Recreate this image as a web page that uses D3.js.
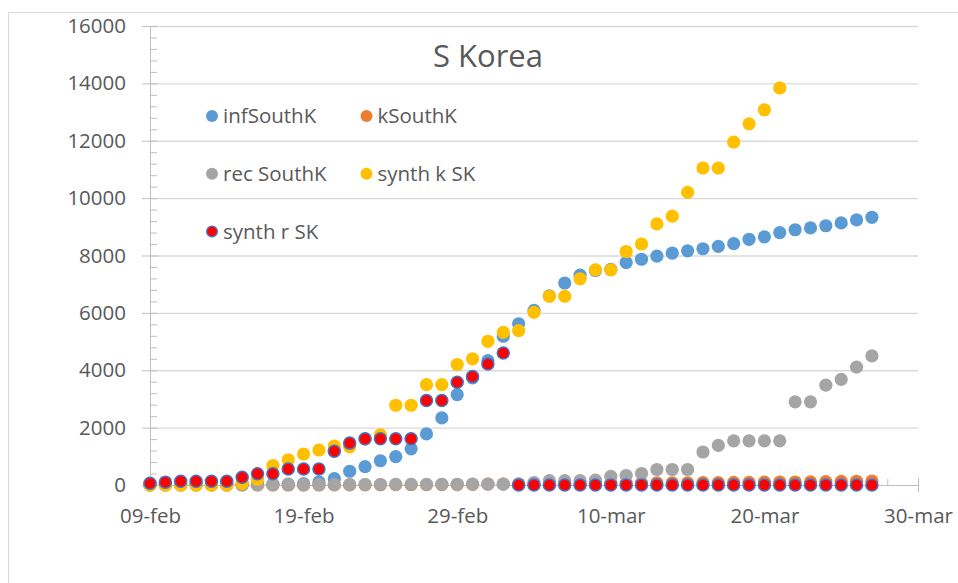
<!DOCTYPE html>
<html>
<head>
<meta charset="utf-8">
<script src="https://cdn.jsdelivr.net/npm/d3@7"></script>
<style>
  body { margin: 0; background: #fff; }
  text { font-family: "Open Sans", "Noto Sans", sans-serif; fill: #595959; }
</style>
</head>
<body>
<div id="chart"></div>
<script>
// S Korea: one point per day starting 09-feb

const firstDay = new Date(Date.UTC(2020, 1, 9));
const lastDay = new Date(Date.UTC(2020, 2, 30));

const infSouthK = [25, 27, 28, 28, 28, 28, 28, 29, 30, 31, 46, 104, 220, 480, 640, 845,
  990, 1261, 1780, 2337, 3150, 3736, 4335, 5186, 5621, 6088, 6593, 7041, 7314, 7478,
  7513, 7755, 7869, 7979, 8086, 8162, 8236, 8320, 8413, 8565, 8652, 8799, 8897, 8961,
  9037, 9137, 9241, 9332];
const kSouthK = [0, 0, 0, 0, 0, 0, 0, 0, 0, 0, 0, 1, 2, 2, 6, 8, 11, 12, 13, 16, 17, 20,
  28, 32, 35, 42, 44, 50, 51, 54, 60, 66, 66, 72, 75, 75, 81, 84, 91, 94, 102, 104, 104,
  111, 120, 126, 131, 139];
const recSouthK = [3, 3, 3, 7, 7, 7, 9, 9, 10, 12, 12, 16, 16, 16, 18, 18, 22, 22, 22, 22,
  27, 30, 30, 30, 41, 88, 150, 150, 150, 170, 300, 330, 400, 540, 540, 540, 1150, 1380,
  1540, 1540, 1540, 1540, 2900, 2900, 3480, 3680, 4110, 4500];
const synthKSK = [0, 0, 0, 0, 0, 0, 60, 200, 680, 880, 1080, 1220, 1360, 1330, 1600, 1750,
  2780, 2780, 3500, 3500, 4200, 4400, 5010, 5320, 5380, 6020, 6580, 6580, 7190, 7500,
  7500, 8140, 8400, 9100, 9370, 10200, 11050, 11050, 11950, 12590, 13080, 13840];
const synthRSK = [60, 100, 130, 130, 130, 130, 270, 390, 390, 560, 560, 560, 1180, 1460,
  1610, 1610, 1610, 1610, 2945, 2945, 3580, 3780, 4220, 4600, 0, 0, 0, 0, 0, 0, 0, 0, 0,
  0, 0, 0, 0, 0, 0, 0, 0, 0, 0, 0, 0, 0, 0, 0];

const seriesNames = ["infSouthK", "kSouthK", "rec SouthK", "synth k SK", "synth r SK"];
const seriesValues = [infSouthK, kSouthK, recSouthK, synthKSK, synthRSK];
const seriesFill = ["#5B9BD5", "#ED7D31", "#A5A5A5", "#FFC000", "#FF0000"];
const seriesStroke = ["#5B9BD5", "#ED7D31", "#A5A5A5", "#FFC000", "#4472C4"];

const yTicks = [0, 2000, 4000, 6000, 8000, 10000, 12000, 14000, 16000];
const xTickDays = [0, 10, 20, 30, 40, 50];

const width = 958, height = 583;
const margin = {top: 26, right: 40, bottom: 98, left: 150};

const svg = d3.select("#chart")
    .append("svg")
    .attr("width", width)
    .attr("height", height);

// chart frame (runs off the right and bottom of the picture)
svg.append("rect")
    .attr("x", 8.5).attr("y", 12.5)
    .attr("width", 1000).attr("height", 1000)
    .style("fill", "none")
    .style("stroke", "#D9D9D9");

const x = d3.scaleUtc()
    .domain([firstDay, lastDay])
    .range([margin.left, width - margin.right]);

const y = d3.scaleLinear()
    .domain([0, 16000])
    .range([height - margin.bottom, margin.top]);

// gridlines
svg.append("g")
  .selectAll("line")
  .data(yTicks.slice(1))
  .enter().append("line")
    .attr("x1", margin.left).attr("x2", width - margin.right)
    .attr("y1", d => y(d) + 0.5).attr("y2", d => y(d) + 0.5)
    .style("stroke", "#D9D9D9")
    .style("stroke-width", 1.3);

// y axis, major and minor ticks
const yAxis = svg.append("g")
    .attr("transform", "translate(" + margin.left + ",0)")
    .call(d3.axisLeft(y).tickValues(yTicks).tickSize(8).tickPadding(16).tickFormat(d3.format("d")));
yAxis.select(".domain").style("stroke", "#BFBFBF");
yAxis.selectAll(".tick line").style("stroke", "#BFBFBF");
yAxis.selectAll("text").style("font-size", "20.5px").style("fill", "#595959");

svg.append("g")
    .attr("transform", "translate(" + margin.left + ",0)")
    .call(d3.axisRight(y).tickValues(d3.range(0, 16001, 400)).tickSize(7).tickFormat(""))
    .call(g => g.select(".domain").remove())
    .selectAll(".tick line").style("stroke", "#BFBFBF");

// x axis
const dayAt = i => d3.utcDay.offset(firstDay, i);
const fmt = d3.utcFormat("%d-%b");

const xAxis = svg.append("g")
    .attr("transform", "translate(0," + y(0) + ")")
    .call(d3.axisBottom(x).tickValues(xTickDays.map(dayAt)).tickSizeOuter(0)
      .tickSize(7).tickPadding(16).tickFormat(d => fmt(d).toLowerCase()));
xAxis.select(".domain").style("stroke", "#BFBFBF");
xAxis.selectAll(".tick line").attr("y1", -7).style("stroke", "#BFBFBF");
xAxis.selectAll("text").style("font-size", "20.5px").style("fill", "#595959");

svg.append("g")
    .attr("transform", "translate(0," + y(0) + ")")
    .call(d3.axisTop(x).tickValues(d3.range(2, 50, 2).map(dayAt)).tickSize(6).tickFormat(""))
    .call(g => g.select(".domain").remove())
    .selectAll(".tick line").style("stroke", "#BFBFBF");

// points, drawn in series order so later ones sit on top
seriesValues.forEach(function(values, s) {
  svg.append("g")
    .selectAll("circle")
    .data(values)
    .enter().append("circle")
      .attr("cx", (d, i) => x(dayAt(i)))
      .attr("cy", d => y(d))
      .attr("r", s === 4 ? 6 : 6.6)
      .style("fill", seriesFill[s])
      .style("stroke", seriesStroke[s])
      .style("stroke-width", s === 4 ? 1.5 : 0);
});

// title
svg.append("text")
    .attr("x", 488).attr("y", 67)
    .attr("text-anchor", "middle")
    .style("font-size", "31px")
    .text("S Korea");

// legend, two columns
const legend = svg.selectAll(".legend")
    .data(seriesNames)
    .enter().append("g")
    .attr("class", "legend")
    .attr("transform", (d, i) => "translate(" + (i % 2 ? 366.5 : 212) + "," + (116 + Math.floor(i / 2) * 57.7) + ")");

legend.append("circle")
    .attr("r", (d, i) => i === 4 ? 5.3 : 6)
    .style("fill", (d, i) => seriesFill[i])
    .style("stroke", (d, i) => seriesStroke[i])
    .style("stroke-width", (d, i) => i === 4 ? 1.4 : 0);

legend.append("text")
    .attr("x", 11)
    .attr("dy", "0.36em")
    .style("font-size", "20.5px")
    .text(d => d);
</script>
</body>
</html>
